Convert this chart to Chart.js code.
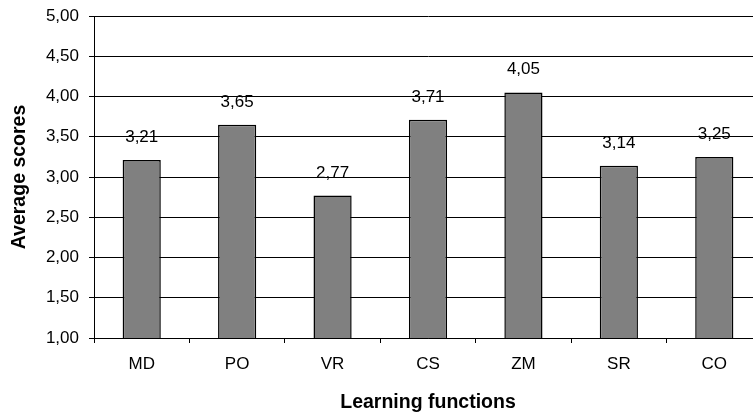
<!DOCTYPE html>
<html>
<head>
<meta charset="utf-8">
<script src="https://cdn.jsdelivr.net/npm/chart.js@4"></script>
<style>
  html, body { margin: 0; padding: 0; background: #fff; overflow: hidden; }
  #wrap { width: 770px; height: 416px; }
</style>
</head>
<body>
<div id="wrap"><canvas id="scoresChart" width="770" height="416"></canvas></div>
<script>
// data
const categories = ['MD', 'PO', 'VR', 'CS', 'ZM', 'SR', 'CO'];
const averageScores = [3.21, 3.65, 2.77, 3.71, 4.05, 3.14, 3.25];
const yTicks = [1, 1.5, 2, 2.5, 3, 3.5, 4, 4.5, 5];

const FONT = '"Liberation Sans", Arial, sans-serif';

// comma decimal like the original
function fmt(v) {
    return v.toFixed(2).replace('.', ',');
}

// value labels above the bars
const valueLabels = {
    id: 'valueLabels',
    afterDatasetsDraw(chart) {
        const ctx = chart.ctx;
        const meta = chart.getDatasetMeta(0);
        ctx.save();
        ctx.font = '17px ' + FONT;
        ctx.fillStyle = '#000';
        ctx.textAlign = 'center';
        ctx.textBaseline = 'alphabetic';
        meta.data.forEach((bar, i) => {
            ctx.fillText(fmt(averageScores[i]), bar.x, bar.y - 18);
        });
        ctx.restore();
    }
};

const ctx = document.getElementById('scoresChart').getContext('2d');
new Chart(ctx, {
    type: 'bar',
    data: {
        labels: categories,
        datasets: [{
            data: averageScores,
            backgroundColor: '#808080',
            borderColor: '#000',
            borderWidth: 1.5,
            barPercentage: 0.4,
            categoryPercentage: 1.0
        }]
    },
    options: {
        responsive: false,
        animation: false,
        layout: { padding: { top: 16, right: 8, left: 0, bottom: 0 } },
        plugins: {
            legend: { display: false },
            tooltip: { enabled: false }
        },
        scales: {
            x: {
                grid: {
                    drawOnChartArea: false,
                    drawTicks: true,
                    tickLength: 5,
                    color: '#000'
                },
                border: { color: '#000', width: 1 },
                ticks: {
                    color: '#000',
                    padding: 11,
                    font: { family: FONT, size: 17 }
                },
                title: {
                    display: true,
                    text: 'Learning functions',
                    color: '#000',
                    padding: { top: 0, bottom: 2 },
                    font: { family: FONT, size: 19.5, weight: 'bold' }
                },
                afterFit(scale) {
                    scale.height = 78;
                    scale.paddingLeft = 0;
                    scale.paddingRight = 0;
                }
            },
            y: {
                min: 1,
                max: 5,
                afterBuildTicks(scale) {
                    scale.ticks = yTicks.map(v => ({ value: v }));
                },
                grid: {
                    color: '#000',
                    drawTicks: true,
                    tickLength: 5
                },
                border: { color: '#000', width: 1 },
                ticks: {
                    color: '#000',
                    padding: 10,
                    font: { family: FONT, size: 17 },
                    callback: (v) => fmt(v)
                },
                title: {
                    display: true,
                    text: 'Average scores',
                    color: '#000',
                    padding: { top: 8, bottom: 0 },
                    font: { family: FONT, size: 19.5, weight: 'bold' }
                },
                afterFit(scale) {
                    scale.width = 94;
                    scale.paddingTop = 0;
                    scale.paddingBottom = 0;
                }
            }
        }
    },
    plugins: [valueLabels]
});
</script>
</body>
</html>
